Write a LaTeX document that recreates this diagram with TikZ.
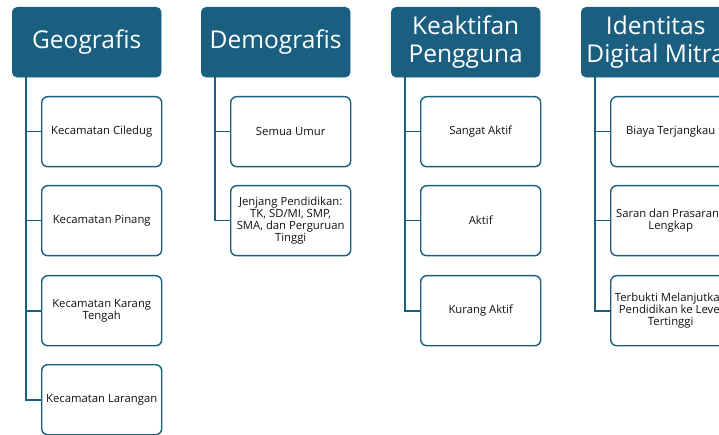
\documentclass[tikz,border=0pt]{standalone}
\usepackage{fontspec}
\setmainfont{Open Sans}
\definecolor{teal}{HTML}{1A5E80}
\definecolor{txt}{HTML}{111111}
\begin{document}
\begin{tikzpicture}[x=1pt,y=-1pt,
  head/.style={draw=teal, fill=teal, rounded corners=5pt, minimum width=149pt, minimum height=70pt,
    text=white, font=\fontsize{24.5}{28}\selectfont, align=center, inner sep=0pt, anchor=north west},
  item/.style={draw=teal, line width=1.4pt, fill=white, rounded corners=6pt, minimum width=120pt, minimum height=70pt,
    text=txt, font=\fontsize{11.3}{12.2}\selectfont, align=center, inner sep=0pt, anchor=north west},
  conn/.style={draw=teal, line width=1.6pt}]
\useasboundingbox (0,0) rectangle (719,435);
\begin{scope}
\clip (0,0) rectangle (719,435);
% headers
\node[head] (h1) at (12,7) {Geografis};
\node[head] (h2) at (201,7) {Demografis};
\node[head] (h3) at (391,7) {Keaktifan\\Pengguna};
\node[head] (h4) at (581,7) {Identitas\\Digital Mitra};
\coordinate (t1) at (26,77);
\coordinate (t2) at (215,77);
\coordinate (t3) at (405,77);
\coordinate (t4) at (595,77);
% column 1
\node[item] (a1) at (41,96) {Kecamatan Ciledug};
\node[item] (a2) at (41,185) {Kecamatan Pinang};
\node[item] (a3) at (41,275) {Kecamatan Karang\\Tengah};
\node[item] (a4) at (41,364) {Kecamatan Larangan};
% column 2
\node[item] (b1) at (230,96) {Semua Umur};
\node[item] (b2) at (230,185) {Jenjang Pendidikan:\\TK, SD/MI, SMP,\\SMA, dan Perguruan\\Tinggi};
% column 3
\node[item] (c1) at (420,96) {Sangat Aktif};
\node[item] (c2) at (420,185) {Aktif};
\node[item] (c3) at (420,275) {Kurang Aktif};
% column 4
\node[item] (d1) at (610,96) {Biaya Terjangkau};
\node[item] (d2) at (610,185) {Saran dan Prasarana\\Lengkap};
\node[item] (d3) at (610,275) {Terbukti Melanjutkan\\Pendidikan ke Level\\Tertinggi};
% connectors
\foreach \c in {a1,a2,a3,a4} \draw[conn] (t1) |- (\c.west);
\foreach \c in {b1,b2} \draw[conn] (t2) |- (\c.west);
\foreach \c in {c1,c2,c3} \draw[conn] (t3) |- (\c.west);
\foreach \c in {d1,d2,d3} \draw[conn] (t4) |- (\c.west);
\end{scope}
\end{tikzpicture}
\end{document}
